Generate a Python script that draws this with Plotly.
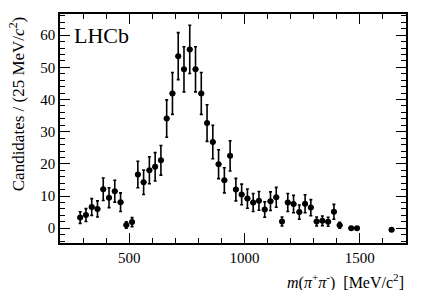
import plotly.graph_objects as go

# bin centres [MeV/c^2] (25 MeV bins)
mass = [287.5, 312.5, 337.5, 362.5, 387.5, 412.5, 437.5, 462.5, 487.5, 512.5,
        537.5, 562.5, 587.5, 612.5, 637.5, 662.5, 687.5, 712.5, 737.5, 762.5,
        787.5, 812.5, 837.5, 862.5, 887.5, 912.5, 937.5, 962.5, 987.5, 1012.5,
        1037.5, 1062.5, 1087.5, 1112.5, 1137.5, 1162.5, 1187.5, 1212.5, 1237.5, 1262.5,
        1287.5, 1312.5, 1337.5, 1362.5, 1387.5, 1412.5, 1462.5, 1487.5, 1637.5]
candidates = [3.3, 4.1, 6.6, 6.0, 12.1, 9.5, 11.5, 8.1, 1.0, 1.9,
              16.7, 14.3, 18.0, 19.1, 21.1, 34.1, 41.9, 53.5, 49.4, 55.6,
              49.4, 41.9, 32.7, 26.8, 19.9, 14.9, 22.5, 12.0, 10.5, 9.2,
              8.0, 8.5, 5.8, 8.4, 9.6, 2.1, 8.0, 7.5, 5.0, 7.6,
              6.4, 2.1, 2.3, 2.0, 5.1, 0.9, 0.0, 0.0, -0.5]
errors = [1.8, 2.0, 2.6, 2.5, 3.5, 3.1, 3.4, 2.9, 1.0, 1.4,
          4.1, 3.8, 4.2, 4.4, 4.6, 5.8, 6.5, 7.3, 7.0, 7.5,
          7.0, 6.5, 5.7, 5.2, 4.5, 3.9, 4.7, 3.5, 3.2, 3.0,
          2.8, 2.9, 2.4, 2.9, 3.1, 1.4, 2.8, 2.7, 2.2, 2.8,
          2.5, 1.4, 1.5, 1.4, 2.3, 0.9, 0.0, 0.0, 0.0]
half_bin = [12.5] * len(mass)

x_ticks = [500, 1000, 1500]
y_ticks = [0, 10, 20, 30, 40, 50, 60]

FONT = "Liberation Serif, Times New Roman, serif"

fig = go.Figure()
fig.add_trace(go.Scatter(
    x=mass, y=candidates, mode="markers",
    marker=dict(color="black", size=6, symbol="circle"),
    error_y=dict(type="data", array=errors, color="black", thickness=1.6, width=1.5),
    error_x=dict(type="data", array=half_bin, color="black", thickness=1.6, width=0),
    showlegend=False,
))

axis_common = dict(
    showline=True, linecolor="black", linewidth=1.5, mirror="allticks",
    ticks="inside", tickcolor="black", tickwidth=1.2, ticklen=10,
    showgrid=False, zeroline=False,
    tickfont=dict(family=FONT, size=15, color="black"),
)

fig.update_xaxes(range=[200, 1700], tickvals=x_ticks,
                 minor=dict(ticks="inside", dtick=100, tick0=0, ticklen=5,
                            tickcolor="black", tickwidth=1.2),
                 **axis_common)
fig.update_yaxes(range=[-4.6, 66.6], tickvals=y_ticks,
                 minor=dict(ticks="inside", dtick=2, tick0=0, ticklen=5,
                            tickcolor="black", tickwidth=1.2),
                 **axis_common)

fig.add_annotation(text="LHCb", xref="paper", yref="paper", x=0.035, y=0.905,
                   xanchor="left", yanchor="middle", showarrow=False,
                   font=dict(family=FONT, size=22, color="black"))
fig.add_annotation(text="<i>m</i>(<i>π</i><sup>+</sup><i>π</i><sup>-</sup>)  [MeV/c<sup>2</sup>]",
                   xref="paper", yref="paper", x=1.0, y=-0.115,
                   xanchor="right", yanchor="top", showarrow=False,
                   font=dict(family=FONT, size=16, color="black"))
fig.add_annotation(text="Candidates / (25 MeV/<i>c</i><sup>2</sup>)",
                   xref="paper", yref="paper", x=-0.125, y=1.0,
                   xanchor="center", yanchor="top", textangle=-90, showarrow=False,
                   font=dict(family=FONT, size=17, color="black"))

fig.update_layout(
    width=427, height=290,
    margin=dict(l=60, r=21, t=14, b=47),
    paper_bgcolor="white", plot_bgcolor="white",
    font=dict(family=FONT, color="black"),
)

fig.write_html("out.html", config={"displayModeBar": False},
               post_script="document.body.style.margin='0';document.body.style.padding='0';")
